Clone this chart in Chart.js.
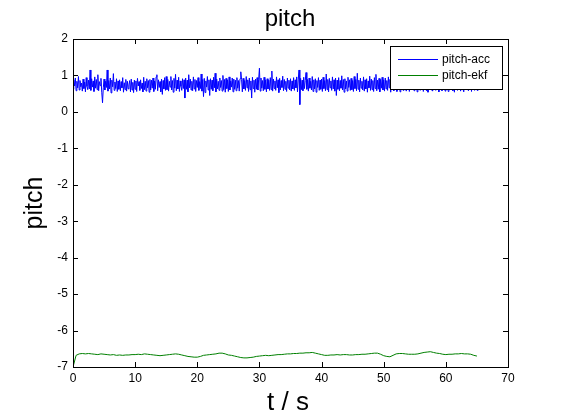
<!DOCTYPE html>
<html>
<head>
<meta charset="utf-8">
<script src="https://cdn.jsdelivr.net/npm/chart.js@4/dist/chart.umd.min.js"></script>
<style>
  html, body { margin: 0; padding: 0; background: #fff; }
  #wrap { width: 561px; height: 420px; }
</style>
</head>
<body>
<div id="wrap"><canvas id="pitchChart" width="561" height="420"></canvas></div>
<script>
// pitch-acc samples, one every 0.125 s from t = 0
const accStep = 0.125;
const accValues = [
  0.62,0.88,0.71,0.93,0.58,0.84,0.66,0.97,0.60,0.86,0.69,0.79,0.57,0.90,0.64,0.82,0.55,0.94,0.70,0.61,
  0.87,0.63,1.15,0.59,0.91,0.68,0.85,0.56,0.96,0.65,0.89,0.61,1.02,0.58,0.83,0.72,0.92,0.54,0.25,0.66,
  0.90,0.60,0.84,0.67,1.15,0.57,0.86,0.63,0.93,0.52,0.87,0.69,1.05,0.59,0.82,0.64,0.91,0.56,0.85,0.62,
  0.88,0.58,0.83,0.66,0.94,0.54,0.80,0.61,0.89,0.57,0.84,0.63,0.74,0.86,0.55,0.90,0.60,0.81,0.53,0.87,
  0.62,0.85,0.56,0.92,0.71,0.83,0.59,0.88,0.64,0.79,0.55,0.95,0.61,0.84,0.57,0.91,0.66,0.86,0.54,0.89,
  0.60,0.87,0.65,0.93,0.56,0.85,0.62,0.96,1.02,0.58,0.88,0.67,0.83,0.55,0.90,0.48,0.86,0.63,0.94,0.59,
  0.97,0.61,0.89,0.57,0.84,0.68,0.97,0.60,0.86,0.54,0.92,0.65,1.03,0.58,0.87,0.63,0.95,0.56,0.85,0.70,
  0.59,0.91,0.64,0.88,0.38,0.93,0.62,0.87,0.55,1.02,0.66,0.90,0.60,0.84,0.58,0.96,0.63,0.89,0.56,0.86,
  0.67,0.94,0.59,0.83,0.64,1.04,0.57,0.89,0.42,0.92,0.53,0.85,0.68,0.97,0.60,0.88,0.45,0.91,0.62,0.87,
  0.58,0.95,0.66,1.06,0.55,0.90,0.63,0.84,0.59,0.93,0.67,0.86,0.57,1.00,0.61,0.89,0.54,0.92,0.64,0.88,
  0.56,0.96,0.60,0.85,0.68,0.93,0.55,0.90,0.62,0.87,0.58,0.94,0.65,0.86,0.57,0.91,1.10,0.89,0.55,0.92,
  0.63,0.86,0.59,0.97,0.66,0.88,0.56,0.93,0.61,0.85,0.38,0.95,0.64,0.87,0.54,0.90,0.62,0.94,0.60,0.89,
  1.20,0.57,0.93,0.65,0.86,0.58,0.95,0.62,0.88,0.55,0.91,0.63,0.87,0.59,0.94,0.61,1.12,0.57,0.90,0.64,
  0.85,0.59,0.96,0.66,0.88,0.53,0.92,0.60,0.86,0.67,0.98,0.58,0.89,0.62,0.84,0.56,0.93,0.65,0.87,0.60,
  0.91,0.57,0.85,0.63,0.94,0.59,0.88,0.66,0.96,0.55,0.90,1.15,0.20,0.92,0.61,0.87,0.58,0.95,0.64,0.86,
  1.08,0.62,0.89,0.57,0.93,0.65,0.84,0.60,0.97,0.56,0.88,0.63,0.91,0.54,0.86,0.67,0.94,0.59,0.87,0.62,
  0.90,0.56,0.95,0.64,0.86,0.58,1.04,0.61,0.89,0.55,0.92,0.66,0.85,0.59,0.96,0.63,0.88,0.57,0.93,0.45,
  0.87,0.62,0.94,0.58,0.86,0.65,0.99,0.60,0.89,0.54,0.91,0.63,0.85,0.57,0.95,0.67,0.88,0.59,0.92,0.61,
  0.86,0.56,0.97,0.64,0.89,0.58,1.06,0.62,0.87,0.55,0.93,0.65,0.84,0.60,0.96,0.57,0.88,0.63,0.91,0.54,
  0.85,0.66,0.98,0.59,0.90,0.61,0.86,0.56,0.94,0.64,1.03,0.58,0.87,0.62,0.92,0.55,0.89,0.65,0.95,0.60,
  0.88,0.57,0.93,0.63,0.86,0.59,0.96,0.66,0.89,0.54,0.91,0.62,0.85,0.58,0.97,0.64,0.87,0.56,0.92,0.61,
  0.90,0.55,0.86,0.65,0.94,0.59,0.88,0.62,0.95,0.57,0.84,0.63,0.91,0.56,0.89,0.66,0.93,0.60,0.86,0.58,
  0.95,0.62,0.88,0.55,0.92,0.64,0.86,0.59,0.97,0.61,0.89,0.56,0.93,0.65,0.87,0.58,0.91,0.54,0.85,0.63,
  0.96,0.60,0.88,0.57,0.94,0.66,0.86,0.59,0.90,0.62,0.95,0.55,0.87,0.64,0.92,0.58,0.89,0.61,0.84,0.57,
  0.93,0.63,0.87,0.56,0.96,0.60,0.89,0.65,0.85,0.58,0.92,0.54,0.88,0.62,0.94,0.59,0.86,0.64,0.91,0.57,
  0.95,0.61,0.87,0.55,0.90,0.66,0.84,0.60,0.93,0.58,0.88,0.63,0.96,0.56,0.89,0.62,0.85,0.59,0.92,0.61,
  0.86,0.58,0.90,0.64
];

// pitch-ekf, every 0.5 s
const ekfStep = 0.5;
const ekfValues = [
  -7.00, -6.68, -6.64, -6.63, -6.64, -6.63, -6.64, -6.65, -6.66, -6.64, -6.65, -6.66, -6.67, -6.66,
  -6.68, -6.67, -6.68, -6.67, -6.67, -6.66, -6.66, -6.65, -6.66, -6.64, -6.65, -6.66, -6.67, -6.68,
  -6.69, -6.68, -6.67, -6.66, -6.65, -6.64, -6.65, -6.67, -6.69, -6.71, -6.72, -6.73, -6.73, -6.71,
  -6.68, -6.67, -6.66, -6.65, -6.64, -6.62, -6.62, -6.64, -6.67, -6.68, -6.70, -6.72, -6.74, -6.75,
  -6.75, -6.74, -6.73, -6.71, -6.70, -6.69, -6.68, -6.69, -6.68, -6.67, -6.66, -6.66, -6.65, -6.64,
  -6.64, -6.63, -6.63, -6.62, -6.62, -6.61, -6.61, -6.60, -6.62, -6.64, -6.66, -6.68, -6.68, -6.67,
  -6.67, -6.66, -6.67, -6.66, -6.66, -6.67, -6.67, -6.66, -6.66, -6.65, -6.65, -6.64, -6.63, -6.62,
  -6.62, -6.65, -6.69, -6.71, -6.72, -6.68, -6.64, -6.63, -6.63, -6.64, -6.65, -6.65, -6.65, -6.64,
  -6.62, -6.60, -6.59, -6.58, -6.60, -6.62, -6.63, -6.65, -6.66, -6.65, -6.65, -6.64, -6.64, -6.63,
  -6.64, -6.64, -6.65, -6.68, -6.70
];

const seriesLabels = ['pitch-acc', 'pitch-ekf'];
const seriesColors = ['#0000ff', '#008000'];
const xTicks = [0, 10, 20, 30, 40, 50, 60, 70];
const yTicks = [-7, -6, -5, -4, -3, -2, -1, 0, 1, 2];

const accPoints = accValues.map((v, i) => ({ x: i * accStep, y: v }));
const ekfPoints = ekfValues.map((v, i) => ({ x: i * ekfStep, y: v }));

const FONT = '"Liberation Sans", Arial, sans-serif';

// box, inward ticks, titles and legend in the old matlab look
const matlabFrame = {
  id: 'matlabFrame',
  afterDraw(chart) {
    const ctx = chart.ctx;
    const a = chart.chartArea;
    const xs = chart.scales.x;
    const ys = chart.scales.y;
    ctx.save();
    ctx.strokeStyle = '#000';
    ctx.lineWidth = 1;
    ctx.beginPath();
    xTicks.forEach(v => {
      const px = Math.round(xs.getPixelForValue(v)) + 0.5;
      ctx.moveTo(px, a.bottom); ctx.lineTo(px, a.bottom - 5);
      ctx.moveTo(px, a.top); ctx.lineTo(px, a.top + 5);
    });
    yTicks.forEach(v => {
      const py = Math.round(ys.getPixelForValue(v)) + 0.5;
      ctx.moveTo(a.left, py); ctx.lineTo(a.left + 5, py);
      ctx.moveTo(a.right, py); ctx.lineTo(a.right - 5, py);
    });
    ctx.stroke();
    ctx.strokeRect(Math.round(a.left) + 0.5, Math.round(a.top) + 0.5,
      Math.round(a.right - a.left), Math.round(a.bottom - a.top));

    // legend
    const lx = 390.5, ly = 46.5, lw = 112, lh = 43;
    ctx.fillStyle = '#fff';
    ctx.fillRect(lx, ly, lw, lh);
    ctx.strokeRect(lx, ly, lw, lh);
    ctx.font = '12px ' + FONT;
    ctx.textBaseline = 'middle';
    ctx.textAlign = 'left';
    chart.data.datasets.forEach((ds, i) => {
      const yy = 59.5 + i * 16;
      ctx.strokeStyle = ds.borderColor;
      ctx.beginPath();
      ctx.moveTo(398, yy); ctx.lineTo(438, yy);
      ctx.stroke();
      ctx.fillStyle = '#000';
      ctx.fillText(ds.label, 442, yy);
    });

    // titles
    ctx.fillStyle = '#000';
    ctx.textAlign = 'center';
    ctx.textBaseline = 'alphabetic';
    ctx.font = '24px ' + FONT;
    ctx.fillText('pitch', 290, 26);
    ctx.font = '26px ' + FONT;
    ctx.fillText('t / s', 288, 410);
    ctx.save();
    ctx.translate(42, 203);
    ctx.rotate(-Math.PI / 2);
    ctx.font = '25px ' + FONT;
    ctx.fillText('pitch', 0, 0);
    ctx.restore();
    ctx.restore();
  }
};

const chart = new Chart(document.getElementById('pitchChart').getContext('2d'), {
  type: 'line',
  data: {
    datasets: [{
      label: seriesLabels[0],
      data: accPoints,
      borderColor: seriesColors[0],
      borderWidth: 1,
      pointRadius: 0,
      tension: 0
    }, {
      label: seriesLabels[1],
      data: ekfPoints,
      borderColor: seriesColors[1],
      borderWidth: 1,
      pointRadius: 0,
      tension: 0
    }]
  },
  options: {
    responsive: false,
    animation: false,
    devicePixelRatio: 1,
    layout: { padding: { left: 0, right: 53, top: 39, bottom: 0 } },
    plugins: {
      legend: { display: false },
      tooltip: { enabled: false },
      title: { display: false }
    },
    scales: {
      x: {
        type: 'linear',
        min: 0,
        max: 70,
        afterFit(scale) { scale.height = 53; },
        afterBuildTicks(scale) { scale.ticks = xTicks.map(v => ({ value: v })); },
        grid: { display: false, drawTicks: false },
        border: { display: false },
        ticks: { color: '#000', font: { family: FONT, size: 12 }, padding: 4, maxRotation: 0, autoSkip: false }
      },
      y: {
        type: 'linear',
        min: -7,
        max: 2,
        afterFit(scale) { scale.width = 73; },
        afterBuildTicks(scale) { scale.ticks = yTicks.map(v => ({ value: v })); },
        grid: { display: false, drawTicks: false },
        border: { display: false },
        ticks: { color: '#000', font: { family: FONT, size: 12 }, padding: 5, autoSkip: false }
      }
    }
  },
  plugins: [matlabFrame]
});
</script>
</body>
</html>
